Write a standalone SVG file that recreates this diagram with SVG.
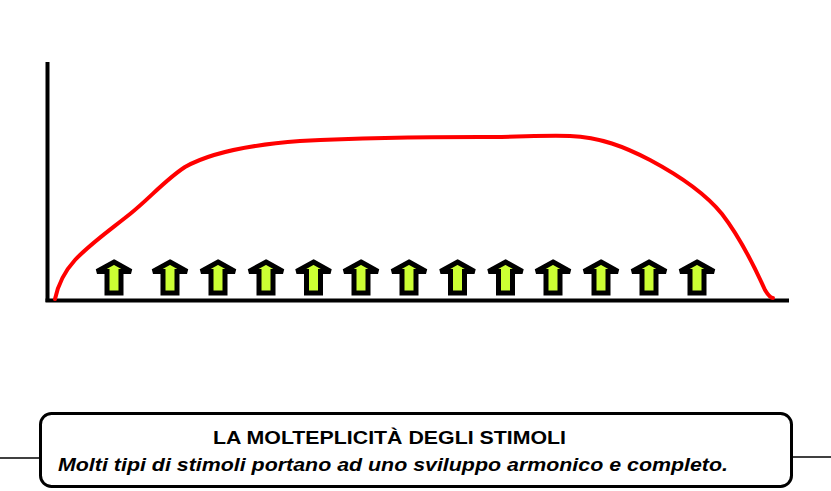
<svg xmlns="http://www.w3.org/2000/svg" width="831" height="491" viewBox="0 0 831 491">
<style>
.axis{stroke:#000;stroke-width:4;fill:none}
.curve{stroke:#ff0000;stroke-width:4;fill:none;stroke-linecap:round;stroke-linejoin:round}
.arr{fill:#ccff33;stroke:#000;stroke-width:5;stroke-linejoin:miter;stroke-miterlimit:2}
.box{fill:#fff;stroke:#000;stroke-width:3}
.ln{stroke:#000;stroke-width:1.3}
.t1{font-family:"Liberation Sans",Arial,sans-serif;font-weight:bold;font-size:18px;fill:#000}
.t2{font-family:"Liberation Sans",Arial,sans-serif;font-weight:bold;font-style:italic;font-size:18px;fill:#000}
</style>
<defs>
<path id="arrow" class="arr" d="M0,262 L17,271.5 L7,271.5 L7,293 L-7,293 L-7,271.5 L-17,271.5 Z"/>
</defs>
<g id="axes">
<line class="axis" x1="47.5" y1="62" x2="47.5" y2="302"/>
<line class="axis" x1="45.5" y1="300.5" x2="789" y2="300.5"/>
</g>
<g id="curve">
<path class="curve" d="M55,299 C58,285 64,272 75,260 C90,244 110,230 130,214 C150,198 165,180 185,167 C215,150 260,144 300,141 C360,138 430,137 480,137 C520,137 545,135 570,136 C600,137 625,147 650,160 C680,176 705,193 722,214 C742,240 756,270 765,290 C768,295 771,298 773,298"/>
</g>
<g id="stimuli">
<use href="#arrow" x="114"/>
<use href="#arrow" x="170"/>
<use href="#arrow" x="218"/>
<use href="#arrow" x="266"/>
<use href="#arrow" x="313.5"/>
<use href="#arrow" x="361"/>
<use href="#arrow" x="409"/>
<use href="#arrow" x="457.5"/>
<use href="#arrow" x="505.5"/>
<use href="#arrow" x="553"/>
<use href="#arrow" x="601"/>
<use href="#arrow" x="649"/>
<use href="#arrow" x="697"/>
</g>
<g id="connectors">
<line class="ln" x1="0" y1="458" x2="40" y2="458"/>
<line class="ln" x1="792" y1="457" x2="831" y2="457"/>
</g>
<g id="caption">
<rect class="box" x="40.5" y="413.5" width="751" height="73" rx="11" ry="11"/>
<text class="t1" x="213" y="444" textLength="353" lengthAdjust="spacingAndGlyphs">LA MOLTEPLICITÀ DEGLI STIMOLI</text>
<text class="t2" x="58" y="471" textLength="670" lengthAdjust="spacingAndGlyphs">Molti tipi di stimoli portano ad uno sviluppo armonico e completo.</text>
</g>
</svg>
